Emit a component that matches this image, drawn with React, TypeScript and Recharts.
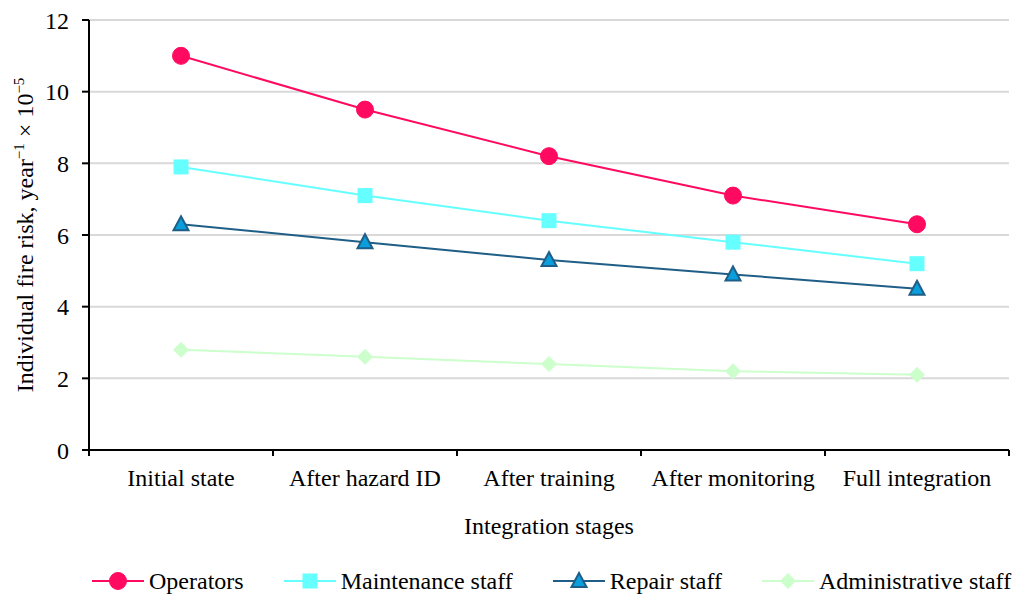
import React from 'react';
import {
  LineChart,
  Line,
  XAxis,
  YAxis,
  CartesianGrid,
  Legend,
} from 'recharts';

const stages = ['Initial state', 'After hazard ID', 'After training', 'After monitoring', 'Full integration'];
const operators = [11, 9.5, 8.2, 7.1, 6.3];
const maintenance = [7.9, 7.1, 6.4, 5.8, 5.2];
const repair = [6.3, 5.8, 5.3, 4.9, 4.5];
const administrative = [2.8, 2.6, 2.4, 2.2, 2.1];
const yTicks = [0, 2, 4, 6, 8, 10, 12];

const data = stages.map((stage, i) => ({
  stage,
  operators: operators[i],
  maintenance: maintenance[i],
  repair: repair[i],
  administrative: administrative[i],
}));

const FONT = '"Liberation Serif", "Times New Roman", serif';
const FS = 24;
const WIDTH = 1018;
const HEIGHT = 595;
const MARGIN = { top: 20, right: 9, left: 0, bottom: 0 };
const Y_AXIS_W = 89;
const PLOT_W = WIDTH - MARGIN.right - Y_AXIS_W;
const HALF_BAND = PLOT_W / stages.length / 2;

type Shape = 'circle' | 'square' | 'triangle' | 'diamond';

interface SeriesDef {
  key: string;
  name: string;
  stroke: string;
  fill: string;
  markerStroke: string;
  shape: Shape;
}

const series: SeriesDef[] = [
  { key: 'operators', name: 'Operators', stroke: '#ff0a60', fill: '#ff0a60', markerStroke: '#ff0a60', shape: 'circle' },
  { key: 'maintenance', name: 'Maintenance staff', stroke: '#66ffff', fill: '#66ffff', markerStroke: '#66ffff', shape: 'square' },
  { key: 'repair', name: 'Repair staff', stroke: '#1f5e86', fill: '#0a9fdc', markerStroke: '#1f5e86', shape: 'triangle' },
  { key: 'administrative', name: 'Administrative staff', stroke: '#ccffcc', fill: '#ccffcc', markerStroke: '#ccffcc', shape: 'diamond' },
];

function Marker({ cx, cy, shape, fill, stroke }: { cx: number; cy: number; shape: Shape; fill: string; stroke: string }) {
  if (shape === 'circle') return <circle cx={cx} cy={cy} r={8.5} fill={fill} stroke={stroke} />;
  if (shape === 'square') return <rect x={cx - 7.5} y={cy - 7.5} width={15} height={15} fill={fill} />;
  if (shape === 'triangle') {
    const pts = `${cx},${cy - 8} ${cx + 7.5},${cy + 6} ${cx - 7.5},${cy + 6}`;
    return <polygon points={pts} fill={fill} stroke={stroke} strokeWidth={2} strokeLinejoin="miter" />;
  }
  const pts = `${cx},${cy - 8} ${cx + 8},${cy} ${cx},${cy + 8} ${cx - 8},${cy}`;
  return <polygon points={pts} fill={fill} />;
}

const makeDot = (s: SeriesDef) => (props: any) => {
  const { cx, cy, index } = props;
  if (cx == null || cy == null) return <g key={index} />;
  return <Marker key={index} cx={cx} cy={cy} shape={s.shape} fill={s.fill} stroke={s.markerStroke} />;
};

// category labels with Excel-style tick marks between categories
const StageTick = (props: any) => {
  const { x, y, payload, index } = props;
  return (
    <g>
      {index === 0 && <line x1={x - HALF_BAND} x2={x - HALF_BAND} y1={y} y2={y + 6} stroke="#000" strokeWidth={2} />}
      <line x1={x + HALF_BAND} x2={x + HALF_BAND} y1={y} y2={y + 6} stroke="#000" strokeWidth={2} />
      <text x={x} y={y + 36} textAnchor="middle" fontSize={FS} fontFamily={FONT} fill="#000">
        {payload.value}
      </text>
    </g>
  );
};

const YLabel = (props: any) => {
  const { viewBox } = props;
  const cx = 25;
  const cy = viewBox.y + viewBox.height / 2;
  return (
    <text
      transform={`translate(${cx},${cy}) rotate(-90)`}
      textAnchor="middle"
      dy="0.35em"
      fontSize={FS}
      fontFamily={FONT}
      fill="#000"
    >
      Individual fire risk, year
      <tspan fontSize={15} dy={-9}>−1</tspan>
      <tspan fontSize={FS} dy={9}> × 10</tspan>
      <tspan fontSize={15} dy={-9}>−5</tspan>
    </text>
  );
};

const XLabel = (props: any) => {
  const { viewBox } = props;
  return (
    <text
      x={viewBox.x + viewBox.width / 2}
      y={534}
      textAnchor="middle"
      fontSize={FS}
      fontFamily={FONT}
      fill="#000"
    >
      Integration stages
    </text>
  );
};

const LegendContent = () => (
  <div
    style={{
      height: 55,
      paddingTop: 27,
      boxSizing: 'border-box',
      display: 'flex',
      alignItems: 'center',
      paddingLeft: 92,
      fontFamily: FONT,
      fontSize: FS,
      lineHeight: '24px',
      color: '#000',
      whiteSpace: 'nowrap',
    }}
  >
    {series.map((s) => (
      <div key={s.key} style={{ display: 'flex', alignItems: 'center', marginRight: 40 }}>
        <svg width={52} height={20} style={{ marginRight: 5 }}>
          <line x1={0} x2={52} y1={10} y2={10} stroke={s.stroke} strokeWidth={2} />
          <Marker cx={26} cy={10} shape={s.shape} fill={s.fill} stroke={s.markerStroke} />
        </svg>
        <span>{s.name}</span>
      </div>
    ))}
  </div>
);

export default function App() {
  return (
    <div style={{ position: 'absolute', left: 0, top: 0, background: '#fff' }}>
      <LineChart width={WIDTH} height={HEIGHT} data={data} margin={MARGIN}>
        <CartesianGrid vertical={false} stroke="#d9d9d9" strokeWidth={2} />
        <XAxis
          dataKey="stage"
          height={90}
          interval={0}
          padding={{ left: HALF_BAND, right: HALF_BAND }}
          tickSize={0}
          tickMargin={0}
          tickLine={false}
          axisLine={{ stroke: '#000', strokeWidth: 2 }}
          tick={<StageTick />}
          label={<XLabel />}
        />
        <XAxis
          xAxisId="top"
          orientation="top"
          dataKey="stage"
          height={0}
          tick={false}
          tickLine={false}
          axisLine={{ stroke: '#000', strokeWidth: 2 }}
        />
        <YAxis
          width={Y_AXIS_W}
          domain={[0, 12]}
          ticks={yTicks}
          interval={0}
          tickSize={7}
          tickMargin={13}
          tickLine={{ stroke: '#000', strokeWidth: 2 }}
          axisLine={{ stroke: '#000', strokeWidth: 2 }}
          tick={{ fill: '#000', fontSize: FS, fontFamily: FONT }}
          label={<YLabel />}
        />
        <YAxis
          yAxisId="right"
          orientation="right"
          width={0}
          domain={[0, 12]}
          tick={false}
          tickLine={false}
          axisLine={{ stroke: '#000', strokeWidth: 2 }}
        />
        <Legend verticalAlign="bottom" wrapperStyle={{ left: 0, width: WIDTH }} content={<LegendContent />} />
        {series.map((s) => (
          <Line
            key={s.key}
            type="linear"
            dataKey={s.key}
            name={s.name}
            stroke={s.stroke}
            strokeWidth={2}
            dot={makeDot(s)}
            activeDot={false}
            isAnimationActive={false}
          />
        ))}
      </LineChart>
    </div>
  );
}
